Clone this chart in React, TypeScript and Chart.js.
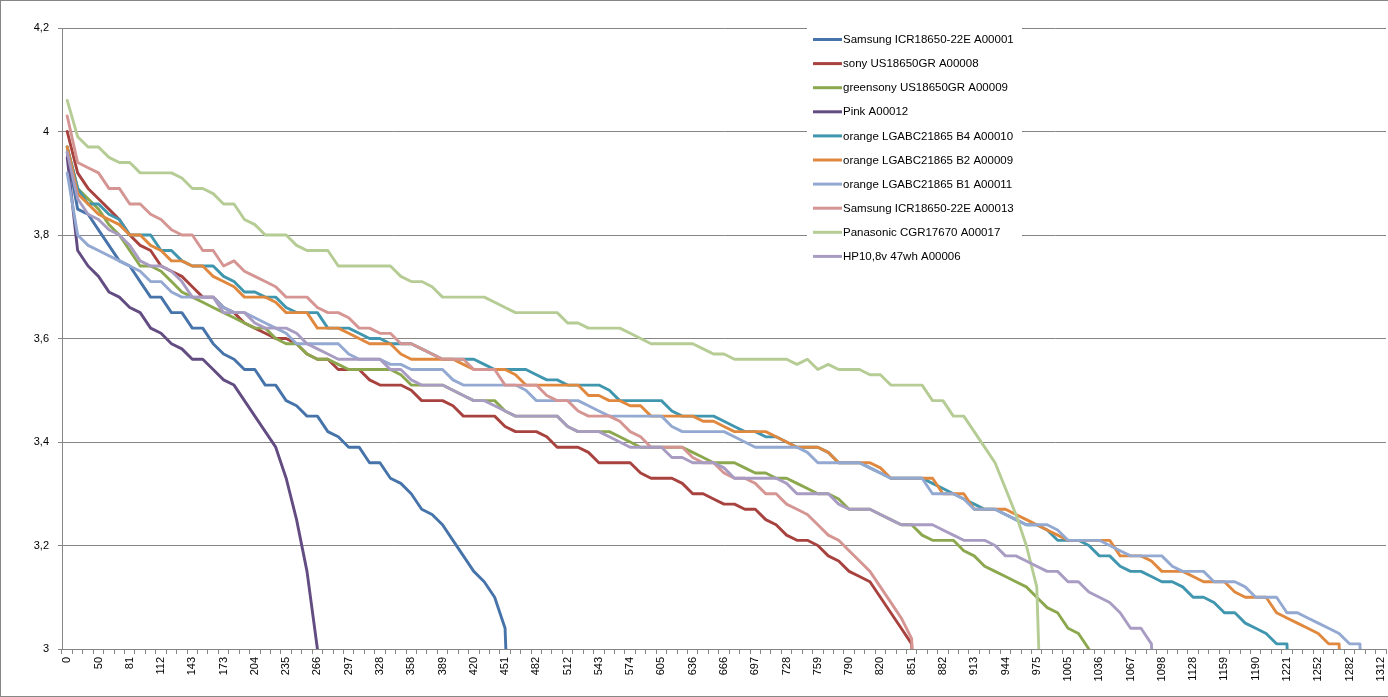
import { useEffect, useRef } from "react";
import { Chart, registerables, type ChartConfiguration, type Plugin } from "chart.js";

Chart.register(...registerables);

// x axis: one category per sample, every third one carries a label
const CATEGORY_COUNT = 127;
const X_TICK_LABELS = [
  "0", "50", "81", "112", "143", "173", "204", "235", "266", "297", "328", "358", "389", "420", "451",
  "482", "512", "543", "574", "605", "636", "666", "697", "728", "759", "790", "820", "851", "882", "913",
  "944", "975", "1005", "1036", "1067", "1098", "1128", "1159", "1190", "1221", "1252", "1282", "1312",
];
const Y_TICKS = [3, 3.2, 3.4, 3.6, 3.8, 4, 4.2];

const SAMSUNG_A00001 = [
  3.96, 3.85, 3.84, 3.81, 3.78, 3.75, 3.74, 3.71, 3.68, 3.68,
  3.65, 3.65, 3.62, 3.62, 3.59, 3.57, 3.56, 3.54, 3.54, 3.51,
  3.51, 3.48, 3.47, 3.45, 3.45, 3.42, 3.41, 3.39, 3.39, 3.36,
  3.36, 3.33, 3.32, 3.30, 3.27, 3.26, 3.24, 3.21, 3.18, 3.15,
  3.13, 3.10, 3.04, 2.5,
];

const SONY_A00008 = [
  4.00, 3.92, 3.89, 3.87, 3.85, 3.83, 3.80, 3.78, 3.77, 3.74,
  3.73, 3.72, 3.70, 3.68, 3.68, 3.66, 3.65, 3.63, 3.62, 3.61,
  3.60, 3.60, 3.59, 3.57, 3.56, 3.56, 3.54, 3.54, 3.54, 3.52,
  3.51, 3.51, 3.51, 3.50, 3.48, 3.48, 3.48, 3.47, 3.45, 3.45,
  3.45, 3.45, 3.43, 3.42, 3.42, 3.42, 3.41, 3.39, 3.39, 3.39,
  3.38, 3.36, 3.36, 3.36, 3.36, 3.34, 3.33, 3.33, 3.33, 3.32,
  3.30, 3.30, 3.29, 3.28, 3.28, 3.27, 3.27, 3.25, 3.24, 3.22,
  3.21, 3.21, 3.20, 3.18, 3.17, 3.15, 3.14, 3.13, 3.10, 3.07,
  3.04, 3.01, 2.5,
];

const GREENSONY_A00009 = [
  3.97, 3.89, 3.87, 3.85, 3.82, 3.80, 3.77, 3.74, 3.74, 3.73,
  3.71, 3.69, 3.68, 3.67, 3.66, 3.65, 3.64, 3.63, 3.62, 3.62,
  3.60, 3.59, 3.59, 3.57, 3.56, 3.56, 3.55, 3.54, 3.54, 3.54,
  3.54, 3.54, 3.53, 3.51, 3.51, 3.51, 3.51, 3.50, 3.49, 3.48,
  3.48, 3.48, 3.46, 3.45, 3.45, 3.45, 3.45, 3.45, 3.43, 3.42,
  3.42, 3.42, 3.42, 3.41, 3.40, 3.39, 3.39, 3.39, 3.39, 3.39,
  3.38, 3.37, 3.36, 3.36, 3.36, 3.35, 3.34, 3.34, 3.33, 3.33,
  3.32, 3.31, 3.30, 3.30, 3.29, 3.27, 3.27, 3.27, 3.26, 3.25,
  3.24, 3.24, 3.22, 3.21, 3.21, 3.21, 3.19, 3.18, 3.16, 3.15,
  3.14, 3.13, 3.12, 3.10, 3.08, 3.07, 3.04, 3.03, 3.00,
];

const PINK_A00012 = [
  3.95, 3.77, 3.74, 3.72, 3.69, 3.68, 3.66, 3.65, 3.62, 3.61,
  3.59, 3.58, 3.56, 3.56, 3.54, 3.52, 3.51, 3.48, 3.45, 3.42,
  3.39, 3.33, 3.25, 3.15, 3.00,
];

const LG_B4_A00010 = [
  3.97, 3.89, 3.86, 3.86, 3.84, 3.83, 3.80, 3.80, 3.80, 3.77,
  3.77, 3.75, 3.74, 3.74, 3.74, 3.72, 3.71, 3.69, 3.69, 3.68,
  3.68, 3.66, 3.65, 3.65, 3.65, 3.62, 3.62, 3.62, 3.61, 3.60,
  3.60, 3.59, 3.59, 3.59, 3.58, 3.57, 3.56, 3.56, 3.56, 3.56,
  3.55, 3.54, 3.54, 3.54, 3.54, 3.53, 3.52, 3.52, 3.51, 3.51,
  3.51, 3.51, 3.50, 3.48, 3.48, 3.48, 3.48, 3.48, 3.46, 3.45,
  3.45, 3.45, 3.45, 3.44, 3.43, 3.42, 3.42, 3.41, 3.41, 3.40,
  3.39, 3.39, 3.39, 3.38, 3.36, 3.36, 3.36, 3.35, 3.34, 3.33,
  3.33, 3.33, 3.33, 3.32, 3.31, 3.30, 3.29, 3.28, 3.27, 3.27,
  3.26, 3.25, 3.24, 3.24, 3.23, 3.21, 3.21, 3.21, 3.20, 3.18,
  3.18, 3.16, 3.15, 3.15, 3.14, 3.13, 3.13, 3.12, 3.10, 3.10,
  3.09, 3.07, 3.07, 3.05, 3.04, 3.03, 3.01, 3.01, 2.5,
];

const LG_B2_A00009 = [
  3.97, 3.88, 3.86, 3.84, 3.83, 3.82, 3.80, 3.80, 3.78, 3.77,
  3.75, 3.75, 3.74, 3.74, 3.72, 3.71, 3.70, 3.68, 3.68, 3.68,
  3.67, 3.65, 3.65, 3.65, 3.62, 3.62, 3.62, 3.61, 3.60, 3.59,
  3.59, 3.59, 3.57, 3.56, 3.56, 3.56, 3.56, 3.56, 3.55, 3.54,
  3.54, 3.54, 3.54, 3.53, 3.51, 3.51, 3.51, 3.51, 3.51, 3.51,
  3.49, 3.49, 3.48, 3.48, 3.47, 3.47, 3.45, 3.45, 3.45, 3.45,
  3.45, 3.44, 3.44, 3.43, 3.42, 3.42, 3.42, 3.42, 3.41, 3.40,
  3.39, 3.39, 3.39, 3.38, 3.36, 3.36, 3.36, 3.36, 3.35, 3.33,
  3.33, 3.33, 3.33, 3.33, 3.30, 3.30, 3.30, 3.27, 3.27, 3.27,
  3.27, 3.26, 3.25, 3.24, 3.23, 3.22, 3.21, 3.21, 3.21, 3.21,
  3.21, 3.18, 3.18, 3.18, 3.17, 3.15, 3.15, 3.15, 3.14, 3.13,
  3.13, 3.13, 3.11, 3.10, 3.10, 3.10, 3.07, 3.06, 3.05, 3.04,
  3.03, 3.01, 3.01, 2.5,
];

const LG_B1_A00011 = [
  3.92, 3.80, 3.78, 3.77, 3.76, 3.75, 3.74, 3.73, 3.71, 3.71,
  3.69, 3.68, 3.68, 3.68, 3.68, 3.66, 3.65, 3.65, 3.64, 3.63,
  3.62, 3.61, 3.59, 3.59, 3.59, 3.59, 3.59, 3.57, 3.56, 3.56,
  3.56, 3.55, 3.55, 3.54, 3.54, 3.54, 3.54, 3.52, 3.51, 3.51,
  3.51, 3.51, 3.51, 3.51, 3.50, 3.48, 3.48, 3.48, 3.48, 3.48,
  3.47, 3.46, 3.45, 3.45, 3.45, 3.45, 3.45, 3.45, 3.43, 3.42,
  3.42, 3.42, 3.42, 3.42, 3.41, 3.40, 3.39, 3.39, 3.39, 3.39,
  3.39, 3.38, 3.36, 3.36, 3.36, 3.36, 3.36, 3.35, 3.34, 3.33,
  3.33, 3.33, 3.33, 3.30, 3.30, 3.30, 3.29, 3.27, 3.27, 3.27,
  3.26, 3.25, 3.24, 3.24, 3.24, 3.23, 3.21, 3.21, 3.21, 3.21,
  3.20, 3.19, 3.18, 3.18, 3.18, 3.18, 3.16, 3.15, 3.15, 3.15,
  3.13, 3.13, 3.13, 3.12, 3.10, 3.10, 3.10, 3.07, 3.07, 3.06,
  3.05, 3.04, 3.03, 3.01, 3.01, 2.5,
];

const SAMSUNG_A00013 = [
  4.03, 3.94, 3.93, 3.92, 3.89, 3.89, 3.86, 3.86, 3.84, 3.83,
  3.81, 3.80, 3.80, 3.77, 3.77, 3.74, 3.75, 3.73, 3.72, 3.71,
  3.70, 3.68, 3.68, 3.68, 3.66, 3.65, 3.65, 3.64, 3.62, 3.62,
  3.61, 3.61, 3.59, 3.59, 3.58, 3.57, 3.56, 3.56, 3.56, 3.54,
  3.54, 3.54, 3.51, 3.51, 3.51, 3.51, 3.49, 3.48, 3.48, 3.46,
  3.45, 3.45, 3.45, 3.44, 3.42, 3.41, 3.39, 3.39, 3.39, 3.39,
  3.37, 3.36, 3.36, 3.34, 3.33, 3.33, 3.32, 3.30, 3.30, 3.28,
  3.27, 3.26, 3.24, 3.22, 3.21, 3.19, 3.17, 3.15, 3.12, 3.09,
  3.06, 3.02, 2.5,
];

const PANASONIC_A00017 = [
  4.06, 3.99, 3.97, 3.97, 3.95, 3.94, 3.94, 3.92, 3.92, 3.92,
  3.92, 3.91, 3.89, 3.89, 3.88, 3.86, 3.86, 3.83, 3.82, 3.80,
  3.80, 3.80, 3.78, 3.77, 3.77, 3.77, 3.74, 3.74, 3.74, 3.74,
  3.74, 3.74, 3.72, 3.71, 3.71, 3.70, 3.68, 3.68, 3.68, 3.68,
  3.68, 3.67, 3.66, 3.65, 3.65, 3.65, 3.65, 3.65, 3.63, 3.63,
  3.62, 3.62, 3.62, 3.62, 3.61, 3.60, 3.59, 3.59, 3.59, 3.59,
  3.59, 3.58, 3.57, 3.57, 3.56, 3.56, 3.56, 3.56, 3.56, 3.56,
  3.55, 3.56, 3.54, 3.55, 3.54, 3.54, 3.54, 3.53, 3.53, 3.51,
  3.51, 3.51, 3.51, 3.48, 3.48, 3.45, 3.45, 3.42, 3.39, 3.36,
  3.31, 3.26, 3.20, 3.12, 2.5,
];

const HP_A00006 = [
  3.96, 3.87, 3.84, 3.83, 3.81, 3.80, 3.78, 3.75, 3.74, 3.74,
  3.73, 3.71, 3.68, 3.68, 3.68, 3.65, 3.65, 3.65, 3.63, 3.62,
  3.62, 3.62, 3.61, 3.59, 3.58, 3.57, 3.56, 3.56, 3.56, 3.56,
  3.56, 3.54, 3.54, 3.52, 3.51, 3.51, 3.51, 3.50, 3.49, 3.48,
  3.48, 3.47, 3.46, 3.45, 3.45, 3.45, 3.45, 3.45, 3.43, 3.42,
  3.42, 3.42, 3.41, 3.40, 3.39, 3.39, 3.39, 3.39, 3.37, 3.37,
  3.36, 3.36, 3.36, 3.35, 3.33, 3.33, 3.33, 3.33, 3.33, 3.32,
  3.30, 3.30, 3.30, 3.30, 3.28, 3.27, 3.27, 3.27, 3.26, 3.25,
  3.24, 3.24, 3.24, 3.24, 3.23, 3.22, 3.21, 3.21, 3.21, 3.20,
  3.18, 3.18, 3.17, 3.16, 3.15, 3.15, 3.13, 3.13, 3.11, 3.10,
  3.09, 3.07, 3.04, 3.04, 3.01, 2.5,
];

const SERIES = [
  { name: "Samsung ICR18650-22E A00001", color: "#4674AA", data: SAMSUNG_A00001 },
  { name: "sony US18650GR A00008", color: "#A8423F", data: SONY_A00008 },
  { name: "greensony US18650GR A00009", color: "#8CA84E", data: GREENSONY_A00009 },
  { name: "Pink A00012", color: "#634C82", data: PINK_A00012 },
  { name: "orange LGABC21865 B4 A00010", color: "#3F96AE", data: LG_B4_A00010 },
  { name: "orange LGABC21865 B2 A00009", color: "#E0883E", data: LG_B2_A00009 },
  { name: "orange LGABC21865 B1 A00011", color: "#93A9D2", data: LG_B1_A00011 },
  { name: "Samsung ICR18650-22E A00013", color: "#D59593", data: SAMSUNG_A00013 },
  { name: "Panasonic CGR17670 A00017", color: "#B6CC95", data: PANASONIC_A00017 },
  { name: "HP10,8v 47wh A00006", color: "#A89CC3", data: HP_A00006 },
];

const FONT = '"Liberation Sans", Arial, sans-serif';
const AXIS_GREY = "#868686";

// legend box sits inside the plot, top right, like the Excel original
const boxLegend: Plugin<"line"> = {
  id: "boxLegend",
  afterDatasetsDraw(chart) {
    const ctx = chart.ctx;
    ctx.save();
    ctx.fillStyle = "#ffffff";
    ctx.fillRect(807, 22, 215, 248);
    ctx.font = `11.5px ${FONT}`;
    ctx.textBaseline = "middle";
    ctx.textAlign = "left";
    chart.data.datasets.forEach((ds, i) => {
      const y = 39.5 + i * 24.1;
      ctx.strokeStyle = ds.borderColor as string;
      ctx.lineWidth = 3;
      ctx.beginPath();
      ctx.moveTo(813, y);
      ctx.lineTo(842, y);
      ctx.stroke();
      ctx.fillStyle = "#000000";
      ctx.fillText(ds.label ?? "", 843, y + 0.5);
    });
    ctx.restore();
  },
};

function DischargeChart() {
  const canvasRef = useRef<HTMLCanvasElement>(null);
  const chartRef = useRef<Chart | null>(null);

  useEffect(() => {
    const ctx = canvasRef.current?.getContext("2d");
    if (!ctx) return;
    chartRef.current?.destroy();

    const labels = Array.from({ length: CATEGORY_COUNT }, (_, i) =>
      i % 3 === 0 ? X_TICK_LABELS[i / 3] ?? "" : ""
    );

    const config: ChartConfiguration<"line"> = {
      type: "line",
      data: {
        labels,
        datasets: SERIES.map((s, i) => ({
          label: s.name,
          data: s.data,
          borderColor: s.color,
          backgroundColor: s.color,
          borderWidth: 2.9,
          pointRadius: 0,
          pointHoverRadius: 0,
          tension: 0,
          fill: false,
          clip: 0,
          borderJoinStyle: "round" as const,
          borderCapStyle: "round" as const,
          order: SERIES.length - i,
        })),
      },
      options: {
        responsive: true,
        maintainAspectRatio: false,
        animation: false,
        layout: { padding: { top: 28, right: 2, left: 0, bottom: 0 } },
        plugins: {
          legend: { display: false },
          tooltip: { enabled: false },
        },
        scales: {
          x: {
            type: "category",
            offset: true,
            grid: {
              display: true,
              offset: true,
              drawOnChartArea: false,
              drawTicks: true,
              tickLength: 5,
              color: AXIS_GREY,
            },
            border: { display: true, color: AXIS_GREY },
            ticks: {
              autoSkip: false,
              minRotation: 90,
              maxRotation: 90,
              padding: 3,
              color: "#000000",
              font: { family: FONT, size: 11 },
            },
            afterFit: (scale) => {
              scale.height = 48;
              scale.paddingLeft = 0;
              scale.paddingRight = 0;
            },
          },
          y: {
            type: "linear",
            min: 3,
            max: 4.2,
            afterBuildTicks: (scale) => {
              scale.ticks = Y_TICKS.map((value) => ({ value }));
            },
            grid: {
              color: AXIS_GREY,
              lineWidth: 1,
              drawTicks: true,
              tickLength: 4,
            },
            border: { display: true, color: AXIS_GREY },
            ticks: {
              padding: 9,
              color: "#000000",
              font: { family: FONT, size: 11 },
              callback: (v) => String(Math.round(Number(v) * 10) / 10).replace(".", ","),
            },
            afterFit: (scale) => {
              scale.width = 62;
              scale.paddingTop = 0;
              scale.paddingBottom = 0;
            },
          },
        },
      },
      plugins: [boxLegend],
    };

    chartRef.current = new Chart(ctx, config);
    return () => chartRef.current?.destroy();
  }, []);

  return <canvas ref={canvasRef} />;
}

export default function App() {
  return (
    <div
      style={{
        position: "fixed",
        left: 0,
        top: 0,
        width: 1388,
        height: 697,
        background: "#ffffff",
      }}
    >
      <div style={{ position: "absolute", inset: 0 }}>
        <DischargeChart />
      </div>
      <div
        style={{
          position: "absolute",
          inset: 0,
          borderTop: `1px solid ${AXIS_GREY}`,
          borderLeft: `1px solid ${AXIS_GREY}`,
          borderBottom: `1px solid ${AXIS_GREY}`,
          pointerEvents: "none",
        }}
      />
    </div>
  );
}
